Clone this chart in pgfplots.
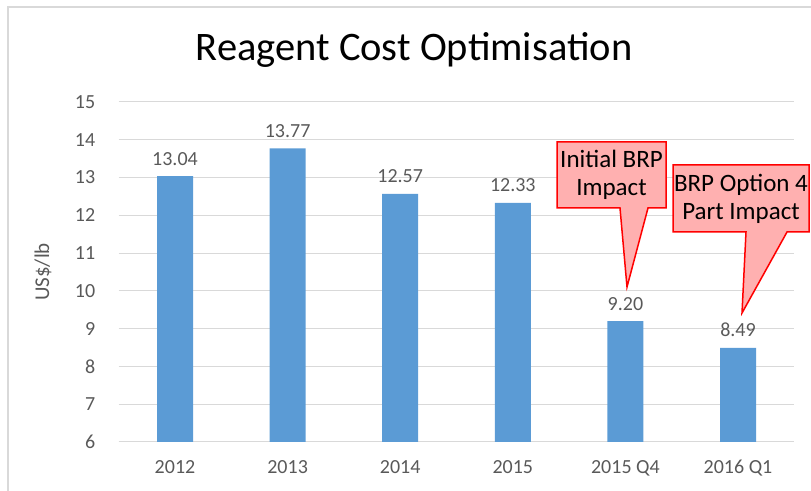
\documentclass[border=0pt]{standalone}
\usepackage{pgfplots}
\pgfplotsset{compat=1.18}
\usepackage{fontspec}
\setmainfont{Carlito}
\definecolor{barblue}{HTML}{5B9BD5}
\definecolor{txtgray}{HTML}{595959}
\definecolor{gridgray}{HTML}{D9D9D9}
\definecolor{calloutfill}{HTML}{FFB0B0}
\pgfplotstableread{
x y
0 13.04
1 13.77
2 12.57
3 12.33
4 9.20
5 8.49
}\costdata
\begin{document}
\begin{tikzpicture}[x=1bp,y=1bp]
\useasboundingbox (0,0) rectangle (811,491);
\draw[gridgray,line width=1.5bp] (8,0) -- (8,484) -- (811,484);
\node[font=\fontsize{40.5bp}{48bp}\selectfont,text=black] at (414,441) {Reagent Cost Optimisation};
\node[font=\fontsize{21bp}{24bp}\selectfont, text=txtgray, rotate=90] at (43,219) {US\$/lb};
\begin{axis}[
  at={(118.7bp,49bp)}, anchor=south west,
  scale only axis, width=675.6bp, height=340bp,
  xmin=-0.5, xmax=5.5, ymin=6, ymax=15,
  ytick={6,7,...,15},
  xtick=data,
  xticklabels={2012,2013,2014,2015,2015 Q4,2016 Q1},
  /pgf/number format/assume math mode=true,
  tick label style={font=\fontsize{20bp}{24bp}\selectfont, text=txtgray},
  yticklabel style={xshift=-20bp},
  xticklabel style={anchor=base, yshift=-31.5bp},
  major tick length=0pt,
  ymajorgrids, grid style={gridgray, line width=1bp},
  axis x line*=bottom, axis y line*=left,
  x axis line style={gridgray, line width=1bp, -},
  y axis line style={draw=none},
  nodes near coords,
  nodes near coords style={font=\fontsize{20bp}{24bp}\selectfont, text=txtgray, /pgf/number format/.cd, fixed, fixed zerofill, precision=2, /tikz/.cd},
  every node near coord/.append style={anchor=base, yshift=11bp},
  clip=false,
]
\addplot[ybar, bar width=36bp, fill=barblue, draw=none] table[x=x,y=y] {\costdata};
\end{axis}
% callouts
\filldraw[fill=calloutfill, draw=red, line width=1.5bp]
  (557,349) -- (666,349) -- (666,283) -- (648,283) -- (627,204) -- (620,283) -- (557,283) -- cycle;
\node[font=\fontsize{25bp}{28bp}\selectfont, align=center] at (611.5,316) {Initial BRP\\Impact};
\filldraw[fill=calloutfill, draw=red, line width=1.5bp]
  (673,326) -- (809,326) -- (809,259) -- (787,259) -- (742,178) -- (746,259) -- (673,259) -- cycle;
\node[font=\fontsize{25bp}{28bp}\selectfont, align=center] at (741,292.5) {BRP Option 4\\Part Impact};
\end{tikzpicture}
\end{document}
